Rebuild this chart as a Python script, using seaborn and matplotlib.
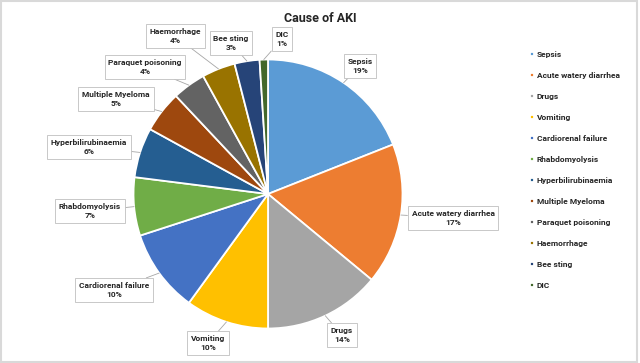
import numpy as np
import seaborn as sns
import matplotlib.pyplot as plt
from matplotlib.patches import Rectangle

causes = ["Sepsis", "Acute watery diarrhea", "Drugs", "Vomiting", "Cardiorenal failure",
          "Rhabdomyolysis", "Hyperbilirubinaemia", "Multiple Myeloma", "Paraquet poisoning",
          "Haemorrhage", "Bee sting", "DIC"]
percent = [19, 17, 14, 10, 10, 7, 6, 5, 4, 4, 3, 1]
colors = ["#5B9BD5", "#ED7D31", "#A5A5A5", "#FFC000", "#4472C4", "#70AD47",
          "#255E91", "#9E480E", "#636363", "#997300", "#264478", "#43682B"]

# label box centres in pixels (x from left, y from top)
label_px = [(360, 66), (453, 218), (342, 335), (208, 343), (114, 290), (90, 211),
            (89, 147), (116, 99), (145, 67), (175, 36), (231, 43), (282, 39)]

sns.set_theme(style="white")
plt.rcParams["font.family"] = ["Roboto", "DejaVu Sans"]

W, H = 640, 363
cx, cy, R = 268, 194, 134.5
fig = plt.figure(figsize=(W / 100, H / 100), dpi=100)
ax = fig.add_axes([(cx - R) / W, 1 - (cy + R) / H, 2 * R / W, 2 * R / H])

pal = sns.color_palette(colors)
wedges, _ = ax.pie(percent, colors=pal, startangle=90, counterclock=False,
                   wedgeprops=dict(edgecolor="white", linewidth=1.3))
ax.set_xlim(-1, 1)
ax.set_ylim(-1, 1)

for w, name, p, (px, py) in zip(wedges, causes, percent, label_px):
    mid = np.deg2rad((w.theta1 + w.theta2) / 2)
    lx, ly = (px - cx) / R, (cy - py) / R
    ax.annotate(f"{name}\n{p}%", xy=(np.cos(mid), np.sin(mid)), xytext=(lx, ly),
                ha="center", va="center", fontsize=6.0, fontweight="bold", color="#262626",
                multialignment="center", annotation_clip=False, linespacing=1.35,
                bbox=dict(boxstyle="square,pad=0.45", fc="white", ec="#BFBFBF", lw=0.6),
                arrowprops=dict(arrowstyle="-", color="#A6A6A6", lw=0.6,
                                shrinkA=0, shrinkB=0))

fig.text(320 / W, 1 - 18 / H, "Cause of AKI", ha="center", va="center",
         fontsize=9.0, fontweight="bold", color="#262626")

fig.legend(wedges, causes, loc="upper left", bbox_to_anchor=(526 / W, 1 - 47 / H),
           frameon=False, handlelength=0.45, handleheight=0.45,
           handletextpad=0.35, labelspacing=1.68, borderpad=0,
           prop=dict(weight="bold", size=6.0))
for t in fig.legends[0].get_texts():
    t.set_color("#262626")

fig.patches.append(Rectangle((0.002, 0.003), 0.994, 0.994, transform=fig.transFigure,
                             fill=False, ec="#D9D9D9", lw=1.5))

fig.savefig("out.png", dpi=100)
